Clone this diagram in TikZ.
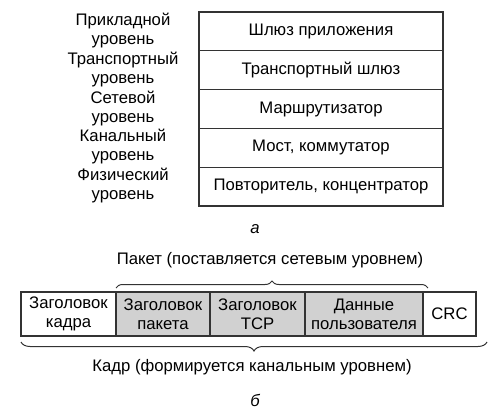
\documentclass[tikz,border=0pt]{standalone}
\usepackage{fontspec}
\setmainfont{Liberation Sans}
\usetikzlibrary{decorations.pathreplacing}
\begin{document}
\begin{tikzpicture}[x=1pt,y=-1pt,
  fnt/.style={font=\fontsize{16.7}{19}\selectfont},
  txt/.style={fnt, align=center, inner sep=0pt},
  row/.style={fnt, draw=black!80, line width=1.1pt, minimum width=244pt, minimum height=38.8pt, inner sep=0pt},
  cell/.style={fnt, draw=black!80, line width=1.1pt, minimum height=44pt, inner sep=0pt, align=center},
  shade/.style={fill=black!18},
  brc/.style={draw=black!80, line width=1pt, decorate}]
\useasboundingbox (0,0) rectangle (488,412);
% top table
\node[row] (r1) at (321,31.4) {Шлюз приложения};
\node[row] (r2) at (321,70.2) {Транспортный шлюз};
\node[row] (r3) at (321,109) {Маршрутизатор};
\node[row] (r4) at (321,147.8) {Мост, коммутатор};
\node[row] (r5) at (321,186.6) {Повторитель, концентратор};
\node[txt] (l1) at (123,30.5) {Прикладной\\уровень};
\node[txt] (l2) at (123,69.5) {Транспортный\\уровень};
\node[txt] (l3) at (123,108.5) {Сетевой\\уровень};
\node[txt] (l4) at (123,147) {Канальный\\уровень};
\node[txt] (l5) at (123,186) {Физический\\уровень};
\node[txt, font=\fontsize{16.7}{19}\selectfont\itshape] (ca) at (255,229) {а};
% bottom frame
\node[cell, minimum width=95pt] (c1) at (68.5,314) {Заголовок\\кадра};
\node[cell, shade, minimum width=94pt] (c2) at (163,314) {Заголовок\\пакета};
\node[cell, shade, minimum width=95pt] (c3) at (257.5,314) {Заголовок\\TCP};
\node[cell, shade, minimum width=118pt] (c4) at (364,314) {Данные\\пользователя};
\node[cell, minimum width=53pt] (c5) at (449.5,314) {CRC};
\coordinate (p1) at (116,288);
\coordinate (p2) at (428,288);
\draw[brc, decoration={brace, amplitude=7pt}] (p1) -- (p2);
\node[txt] (tp) at (270,260) {Пакет (поставляется сетевым уровнем)};
\coordinate (k1) at (487,342);
\coordinate (k2) at (21,342);
\draw[brc, decoration={brace, amplitude=9pt}] (k1) -- (k2);
\node[txt] (tk) at (252,367) {Кадр (формируется канальным уровнем)};
\node[txt, font=\fontsize{16.7}{19}\selectfont\itshape] (cb) at (255,400) {б};
\end{tikzpicture}
\end{document}
